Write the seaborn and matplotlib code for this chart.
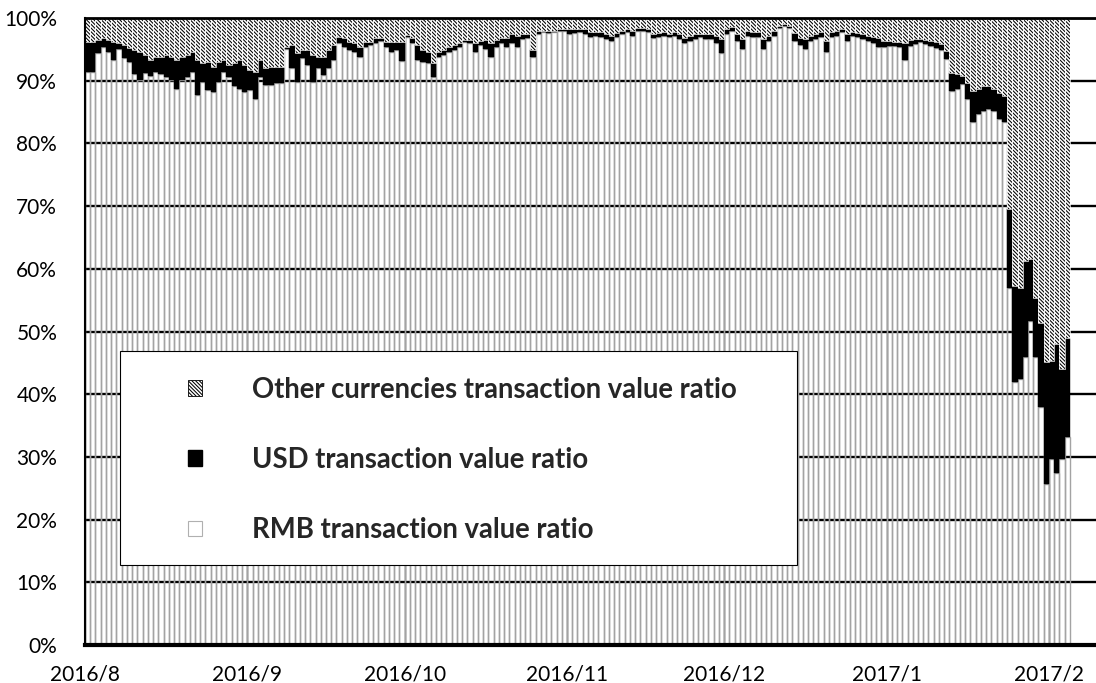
import numpy as np
import pandas as pd
import matplotlib
matplotlib.use("Agg")
import matplotlib.pyplot as plt
from matplotlib.patches import Patch, Rectangle
import seaborn as sns

# ---------------- data (daily, 2016-08-01 .. 2017-02-04) ----------------
start_date = "2016-08-01"
rmb_pct = [
    91.4, 91.4, 94.4, 95.4, 94.5, 93.3, 95.1, 93.6, 93.0, 91.1,
    90.1, 91.2, 90.7, 91.4, 91.1, 90.6, 90.1, 88.7, 90.1, 90.6,
    91.4, 87.7, 89.8, 88.5, 88.2, 89.8, 91.4, 90.6, 89.1, 88.7,
    88.2, 88.5, 87.1, 90.6, 89.3, 89.3, 89.6, 89.6, 95.0, 92.0,
    89.8, 93.6, 92.5, 89.8, 92.0, 90.9, 92.0, 93.3, 96.0, 95.4,
    94.9, 94.6, 93.8, 95.4, 95.7, 96.0, 96.3, 95.4, 94.6, 94.9,
    93.1, 97.0, 96.0, 93.3, 93.0, 92.8, 90.6, 93.8, 94.1, 94.6,
    94.9, 95.4, 96.2, 96.0, 94.6, 95.7, 95.1, 93.8, 95.4, 96.0,
    95.4, 96.0, 95.4, 96.6, 96.8, 93.8, 97.5, 97.7, 97.6, 97.7,
    97.9, 97.9, 97.5, 97.6, 97.7, 97.5, 97.0, 97.1, 97.0, 96.7,
    96.4, 97.0, 97.5, 97.7, 97.2, 98.0, 98.0, 97.7, 96.8, 97.0,
    97.2, 97.0, 97.1, 96.7, 96.0, 96.3, 96.7, 97.0, 96.7, 96.7,
    96.0, 94.4, 97.5, 98.0, 96.3, 95.1, 97.2, 97.0, 97.0, 95.1,
    96.3, 97.2, 98.4, 98.7, 98.4, 96.3, 95.7, 95.1, 96.3, 96.7,
    97.0, 94.5, 97.0, 97.2, 97.7, 96.3, 97.2, 97.0, 96.7, 96.4,
    96.0, 95.4, 95.3, 95.5, 95.6, 95.4, 93.3, 95.6, 95.9, 96.1,
    95.9, 95.6, 95.2, 94.9, 93.5, 88.4, 88.7, 89.5, 87.1, 83.4,
    84.7, 85.2, 85.5, 85.2, 83.9, 83.4, 57.0, 41.9, 42.4, 45.9,
    51.6, 45.9, 37.9, 25.6, 29.6, 27.5, 29.6, 33.1,
]
rmb_usd_pct = [
    96.2, 96.2, 96.5, 96.8, 96.5, 96.2, 96.0, 95.7, 95.2, 94.9,
    94.6, 94.1, 93.3, 93.8, 93.8, 94.1, 93.8, 93.3, 93.8, 94.1,
    94.6, 93.3, 92.8, 93.0, 92.2, 93.0, 93.3, 92.5, 92.8, 93.3,
    92.5, 91.7, 91.4, 93.3, 92.0, 92.2, 92.2, 92.2, 95.4, 95.7,
    94.4, 94.9, 94.9, 94.1, 93.8, 93.8, 94.9, 95.7, 97.0, 96.8,
    96.2, 96.0, 95.4, 96.2, 96.2, 96.8, 96.8, 96.2, 96.2, 96.2,
    96.2, 97.3, 96.8, 95.7, 94.9, 94.6, 92.8, 94.6, 94.9, 95.4,
    95.7, 96.0, 96.5, 96.5, 96.0, 96.4, 96.5, 96.0, 96.5, 96.8,
    96.8, 97.5, 97.2, 97.5, 97.5, 94.9, 97.9, 97.9, 97.9, 98.0,
    98.3, 98.3, 98.2, 98.2, 98.3, 98.2, 97.7, 97.7, 97.7, 97.5,
    97.2, 97.6, 98.0, 98.3, 98.0, 98.4, 98.4, 98.3, 97.5, 97.6,
    97.7, 97.5, 97.7, 97.4, 96.8, 97.2, 97.4, 97.5, 97.4, 97.5,
    97.2, 96.7, 98.3, 98.5, 97.5, 96.7, 98.0, 97.7, 97.7, 96.7,
    97.2, 98.0, 98.7, 99.0, 98.7, 97.6, 96.8, 96.7, 97.2, 97.5,
    97.7, 96.4, 97.7, 98.0, 98.2, 97.5, 97.7, 97.6, 97.5, 97.2,
    97.0, 96.8, 96.3, 96.4, 96.2, 96.2, 96.0, 96.5, 96.6, 96.6,
    96.5, 96.3, 96.2, 95.9, 94.8, 91.3, 91.1, 90.8, 89.7, 88.4,
    88.7, 89.2, 89.2, 88.7, 88.1, 87.6, 69.5, 57.3, 57.0, 61.3,
    61.5, 55.4, 51.4, 45.1, 45.3, 48.0, 44.0, 49.0,
]
usd_pct = [round(b - a, 2) for a, b in zip(rmb_pct, rmb_usd_pct)]
other_pct = [round(100 - a - b, 2) for a, b in zip(rmb_pct, usd_pct)]

tick_labels = ["2016/8", "2016/9", "2016/10", "2016/11", "2016/12", "2017/1", "2017/2"]
legend_labels = ["Other currencies transaction value ratio",
                 "USD transaction value ratio",
                 "RMB transaction value ratio"]

# ---------------- style ----------------
sns.set_style("white")
plt.rcParams["font.family"] = ["Lato", "DejaVu Sans"]
plt.rcParams["hatch.linewidth"] = 0.75

n = len(rmb_pct)
dates = pd.date_range(start_date, periods=n, freq="D")
df = pd.DataFrame({
    "idx": np.arange(n),
    "rmb": rmb_pct,
    "usd": usd_pct,
    "other": other_pct,
})
df["usd_bottom"] = df["rmb"]
df["other_bottom"] = df["rmb"] + df["usd"]

W, H = 1096, 683
fig = plt.figure(figsize=(W / 100, H / 100), dpi=100)
ax = fig.add_axes([85 / W, 38 / H, 1011 / W, 627 / H])

HATCH = "\\" * 9
sns.barplot(data=df, x="idx", y="rmb", width=1, errorbar=None, ax=ax,
            color="white", saturation=1,
            facecolor="none", edgecolor="#a3a3a3", linewidth=1.0, zorder=2)
sns.barplot(data=df, x="idx", y="usd", width=1, errorbar=None, ax=ax,
            color="black", saturation=1,
            bottom=df["usd_bottom"].values, facecolor="black",
            edgecolor="black", linewidth=0.3, zorder=2)
sns.barplot(data=df, x="idx", y="other", width=1, errorbar=None, ax=ax,
            color="white", saturation=1,
            bottom=df["other_bottom"].values, facecolor="white",
            edgecolor="black", linewidth=0, hatch=HATCH, zorder=2)
# thin white separators between the hatched segments
sns.barplot(data=df, x="idx", y="other", width=1, errorbar=None, ax=ax,
            color="white", saturation=1,
            bottom=df["other_bottom"].values, facecolor="none",
            edgecolor="white", linewidth=0.5, zorder=2.1)

# ---------------- axes ----------------
px_per_day = 5.239
ax.set_xlim(-0.5, -0.5 + 1011 / px_per_day)
ax.set_ylim(0, 100)

month_starts = [(d - dates[0]).days for d in pd.date_range("2016-08-01", "2017-02-01", freq="MS")]
ax.set_xticks([m - 0.5 for m in month_starts])
ax.set_xticklabels(tick_labels)
ax.set_yticks(np.arange(0, 101, 10))
ax.set_yticklabels([f"{v}%" for v in range(0, 101, 10)])
ax.set_xlabel("")
ax.set_ylabel("")

ax.set_axisbelow(True)
ax.yaxis.grid(True, color="black", linewidth=1.7)
ax.xaxis.grid(True, color="#3a3a3a", linewidth=1.0)

ax.spines["right"].set_visible(False)
ax.spines["top"].set_color("black")
ax.spines["top"].set_linewidth(2.0)
ax.spines["left"].set_color("black")
ax.spines["left"].set_linewidth(1.5)
ax.spines["bottom"].set_color("black")
ax.spines["bottom"].set_linewidth(3.0)
for sp in ax.spines.values():
    sp.set_zorder(3)

ax.tick_params(axis="x", direction="out", length=5, width=3, color="black",
               labelsize=15, pad=9, labelcolor="black")
ax.tick_params(axis="y", length=0, labelsize=15, pad=20, labelcolor="black")

# ---------------- legend ----------------
handles = [
    Patch(facecolor="white", edgecolor="black", hatch=HATCH, linewidth=0.6),
    Patch(facecolor="black", edgecolor="black"),
    Patch(facecolor="white", edgecolor="#b0b0b0", linewidth=0.8),
]
ax.add_patch(Rectangle((120 / W, 1 - 565 / H), 677 / W, 214 / H,
                       transform=fig.transFigure, facecolor="white",
                       edgecolor="black", linewidth=0.8, zorder=4, clip_on=False))
leg_fs = 19.8
leg = ax.legend(handles, legend_labels, loc="center left",
                bbox_to_anchor=(188 / W, 1 - 460 / H), bbox_transform=fig.transFigure,
                frameon=False, borderpad=0, borderaxespad=0,
                handlelength=0.51, handleheight=0.51, handletextpad=1.82,
                labelspacing=1.61, prop=dict(family="Lato", weight="bold", size=leg_fs))
leg.set_zorder(5)

fig.savefig("out.png", dpi=100)
